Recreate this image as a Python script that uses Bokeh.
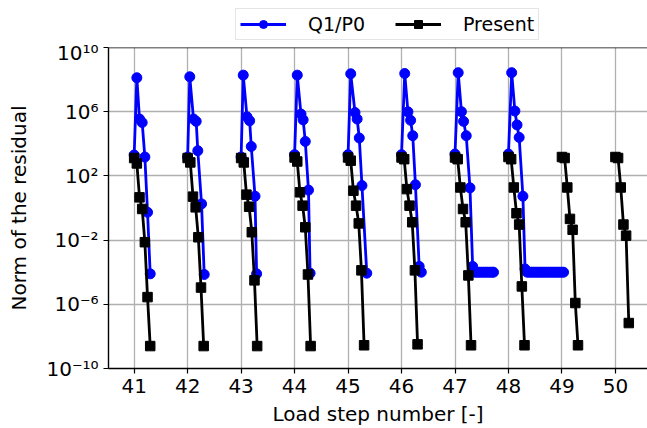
import math
from bokeh.plotting import figure
from bokeh.layouts import column
from bokeh.models import (Range1d, Legend, LegendItem, FixedTicker,
                          CustomJSTickFormatter, Span)
from bokeh.embed import file_html
from bokeh.resources import INLINE

# ---------------- data ----------------
x_ticks = [41, 42, 43, 44, 45, 46, 47, 48, 49, 50]
y_ticks = [1e-10, 1e-6, 1e-2, 1e2, 1e6, 1e10]

# Q1/P0 : one list per load step (x positions and residual norms)
q1p0_x = [
    [41.0, 41.05, 41.1, 41.15, 41.2, 41.25, 41.3],
    [42.0, 42.04, 42.11, 42.16, 42.19, 42.26, 42.31],
    [43.0, 43.04, 43.11, 43.16, 43.19, 43.26, 43.29],
    [44.0, 44.05, 44.12, 44.16, 44.2, 44.26, 44.29],
    [45.0, 45.05, 45.13, 45.17, 45.21, 45.26, 45.35],
    [46.0, 46.06, 46.12, 46.17, 46.21, 46.26, 46.33, 46.37],
    [47.0, 47.06, 47.12, 47.16, 47.21, 47.28, 47.33,
     47.37, 47.41, 47.45, 47.49, 47.53, 47.57, 47.61, 47.65, 47.69, 47.72],
    [48.0, 48.06, 48.12, 48.16, 48.2, 48.27, 48.31,
     48.35, 48.39, 48.43, 48.47, 48.51, 48.55, 48.59, 48.63, 48.67,
     48.71, 48.75, 48.79, 48.83, 48.87, 48.91, 48.95, 48.99, 49.03],
]
q1p0_y = [
    [2.0e3, 1.3e8, 3.5e5, 2.1e5, 1.5e3, 5.4e-1, 7.9e-5],
    [1.5e3, 1.5e8, 3.5e5, 2.5e5, 3.7e3, 1.8e0, 7.2e-5],
    [1.5e3, 1.9e8, 4.8e5, 2.7e5, 6.8e3, 5.4e0, 7.9e-5],
    [2.1e3, 1.9e8, 7.1e5, 3.1e5, 1.4e4, 1.3e1, 8.7e-5],
    [2.1e3, 2.3e8, 8.9e5, 3.5e5, 2.3e4, 2.5e1, 8.7e-5],
    [2.1e3, 2.4e8, 9.8e5, 2.9e5, 3.2e4, 2.8e1, 2.3e-4, 1.0e-4],
    [2.3e3, 2.7e8, 1.0e6, 2.5e5, 3.2e4, 1.8e1, 2.3e-4,
     1.0e-4, 1.0e-4, 1.0e-4, 1.0e-4, 1.0e-4, 1.0e-4, 1.0e-4, 1.0e-4, 1.0e-4, 1.0e-4],
    [2.3e3, 2.7e8, 1.1e6, 1.5e5, 2.5e4, 5.4e0, 1.6e-4,
     1.0e-4, 1.0e-4, 1.0e-4, 1.0e-4, 1.0e-4, 1.0e-4, 1.0e-4, 1.0e-4, 1.0e-4,
     1.0e-4, 1.0e-4, 1.0e-4, 1.0e-4, 1.0e-4, 1.0e-4, 1.0e-4, 1.0e-4, 1.0e-4],
]

# Present
present_x = [
    [41.0, 41.05, 41.1, 41.15, 41.2, 41.25, 41.3],
    [42.0, 42.05, 42.1, 42.15, 42.2, 42.25, 42.3],
    [43.0, 43.05, 43.1, 43.15, 43.2, 43.25, 43.3],
    [44.0, 44.05, 44.1, 44.15, 44.2, 44.25, 44.3],
    [45.0, 45.05, 45.1, 45.15, 45.2, 45.25, 45.3],
    [46.0, 46.05, 46.1, 46.15, 46.2, 46.25, 46.3],
    [47.0, 47.05, 47.1, 47.15, 47.2, 47.25, 47.3],
    [48.0, 48.05, 48.1, 48.15, 48.2, 48.25, 48.3],
    [49.0, 49.05, 49.1, 49.15, 49.2, 49.25, 49.3],
    [50.0, 50.05, 50.1, 50.15, 50.2, 50.25],
]
present_y = [
    [1.3e3, 6.0e2, 4.6e0, 8.7e-1, 7.4e-3, 2.8e-6, 2.5e-9],
    [1.3e3, 6.9e2, 5.1e0, 1.1e0, 1.5e-2, 1.1e-5, 2.5e-9],
    [1.3e3, 6.9e2, 6.8e0, 1.2e0, 3.1e-2, 3.1e-5, 2.5e-9],
    [1.4e3, 7.9e2, 9.5e0, 1.4e0, 6.3e-2, 7.2e-5, 2.5e-9],
    [1.4e3, 8.9e2, 1.2e1, 1.4e0, 1.1e-1, 1.3e-4, 2.8e-9],
    [1.4e3, 1.1e3, 1.5e1, 1.4e0, 1.3e-1, 1.3e-4, 3.2e-9],
    [1.4e3, 1.1e3, 1.9e1, 8.7e-1, 1.3e-1, 6.3e-5, 2.8e-9],
    [1.5e3, 1.1e3, 1.9e1, 4.7e-1, 9.3e-2, 1.3e-5, 2.8e-9],
    [1.5e3, 1.3e3, 1.9e1, 2.1e-1, 4.4e-2, 1.2e-6, 2.8e-9],
    [1.5e3, 1.3e3, 1.9e1, 9.3e-2, 1.9e-2, 6.8e-8],
]

series_labels = ["Q1/P0", "Present"]
series_colors = ["#0000ff", "#000000"]
series_markers = ["circle", "square"]


def join(xs_list, ys_list):
    xs, ys = [], []
    for a, b in zip(xs_list, ys_list):
        xs += list(a) + [math.nan]
        ys += list(b) + [math.nan]
    return xs, ys


FONT = "DejaVu Sans"
bx, by = join(q1p0_x, q1p0_y)
kx, ky = join(present_x, present_y)
series_xy = [(bx, by), (kx, ky)]

# ---------------- main plot ----------------
p = figure(width=647, height=388, x_range=Range1d(40.52, 50.6),
           y_range=Range1d(1e-10, 1e10), y_axis_type="log",
           output_backend="svg", toolbar_location=None,
           min_border_left=108, min_border_right=0,
           min_border_top=7, min_border_bottom=60)
p.outline_line_color = None
p.background_fill_color = "white"
p.border_fill_color = "white"

for (xs, ys), col, mk, sz in zip(series_xy, series_colors, series_markers, [10, 9.5]):
    p.line(xs, ys, line_color=col, line_width=2.8)
    p.scatter(xs, ys, marker=mk, size=sz, fill_color=col, line_color=col)

p.xaxis.ticker = FixedTicker(ticks=x_ticks)
p.yaxis.ticker = FixedTicker(ticks=y_ticks, minor_ticks=[])
p.yaxis.formatter = CustomJSTickFormatter(code="""
const s = {"-":"\u207b","0":"\u2070","1":"\u00b9","2":"\u00b2","3":"\u00b3",
           "4":"\u2074","5":"\u2075","6":"\u2076","7":"\u2077","8":"\u2078","9":"\u2079"};
const e = Math.round(Math.log10(tick));
return "10" + String(e).split("").map(c => s[c]).join("");
""")
p.xaxis.axis_label = "Load step number [-]"
p.yaxis.axis_label = "Norm of the residual"
for ax in (p.xaxis[0], p.yaxis[0]):
    ax.axis_label_text_font = FONT
    ax.axis_label_text_font_size = "20px"
    ax.axis_label_text_font_style = "normal"
    ax.axis_label_text_color = "black"
    ax.major_label_text_font = FONT
    ax.major_label_text_font_size = "20px"
    ax.major_label_text_color = "black"
    ax.axis_line_color = "black"
    ax.axis_line_width = 1.4
    ax.major_tick_line_color = "black"
    ax.major_tick_line_width = 1.2
    ax.major_tick_out = 5
    ax.major_tick_in = 0
    ax.minor_tick_line_color = None
    ax.major_label_standoff = 5
p.xaxis.axis_label_standoff = 6
p.yaxis.axis_label_standoff = 12

p.xgrid.grid_line_color = "#b0b0b0"
p.ygrid.grid_line_color = "#b0b0b0"
p.xgrid.grid_line_width = 1.3
p.ygrid.grid_line_width = 1.3

# top spine
p.add_layout(Span(location=1e10, dimension="width", line_color="black",
                  line_width=1.4))

# ---------------- legend strip above the plot ----------------
# (renderers use the real series, which fall outside this strip's ranges)
lf = figure(width=647, height=40, x_range=Range1d(0, 1), y_range=Range1d(0, 1),
            output_backend="svg", toolbar_location=None,
            x_axis_location=None, y_axis_location=None,
            min_border_left=0, min_border_right=0,
            min_border_top=0, min_border_bottom=0)
lf.outline_line_color = None
lf.xgrid.visible = False
lf.ygrid.visible = False
lf.background_fill_color = "white"
lf.border_fill_color = "white"

items = []
for lab, (xs, ys), col, mk in zip(series_labels, series_xy, series_colors, series_markers):
    r1 = lf.line(xs, ys, line_color=col, line_width=2.8)
    r2 = lf.scatter(xs, ys, marker=mk, size=10, fill_color=col, line_color=col)
    items.append(LegendItem(label=lab, renderers=[r1, r2]))

legend = Legend(items=items, orientation="horizontal", location=(127, 0))
legend.label_text_font = FONT
legend.label_text_font_size = "19px"
legend.label_text_color = "black"
legend.glyph_width = 46
legend.glyph_height = 20
legend.label_standoff = 22
legend.spacing = 30
legend.padding = 4
legend.margin = 0
legend.border_line_color = "#cccccc"
legend.border_line_width = 1.5
legend.background_fill_alpha = 0.8
lf.add_layout(legend, "center")

layout = column(lf, p, spacing=0)
open("out.html", "w").write(file_html(layout, INLINE))
